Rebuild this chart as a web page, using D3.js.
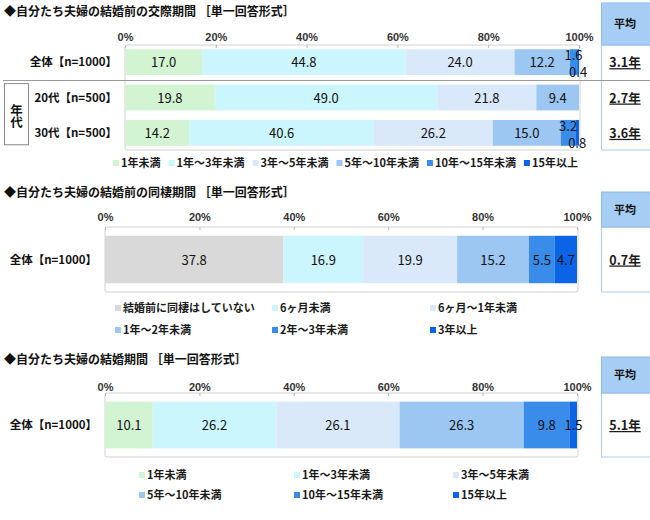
<!DOCTYPE html>
<html>
<head>
<meta charset="utf-8">
<script src="https://cdn.jsdelivr.net/npm/d3@7"></script>
<style>
  body { margin: 0; background: #fff; }
  svg { font-family: "Noto Sans CJK JP", "Noto Sans", sans-serif; }
  .title { font-size: 12px; font-weight: bold; fill: #111; }
  .rowLabel { font-size: 11.5px; font-weight: bold; fill: #111; }
  .axis text { font-size: 11px; font-weight: bold; fill: #333; }
  .axis line { stroke: #b8b8b8; }
  .segLabel { font-size: 13px; fill: #111; }
  .legend text { font-size: 11px; font-weight: bold; fill: #1a1a1a; }
  .avgHead { font-size: 11px; font-weight: bold; fill: #111; }
  .avgVal { font-size: 12.5px; font-weight: bold; fill: #1a1a1a; text-decoration: underline; }
</style>
</head>
<body>
<div id="chart"></div>
<script>
// --- data ---
var TICKS = [0, 20, 40, 60, 80, 100];

var DATING_TITLE = "◆自分たち夫婦の結婚前の交際期間 ［単一回答形式］";
var DATING_KEYS = ["1年未満", "1年～3年未満", "3年～5年未満", "5年～10年未満", "10年～15年未満", "15年以上"];
var DATING_ROWS = ["全体【n=1000】", "20代【n=500】", "30代【n=500】"];
var DATING_VALUES = [
    [17.0, 44.8, 24.0, 12.2, 1.6, 0.4],
    [19.8, 49.0, 21.8, 9.4, 0, 0],
    [14.2, 40.6, 26.2, 15.0, 3.2, 0.8]
];
var DATING_AVG = ["3.1年", "2.7年", "3.6年"];

var COHAB_TITLE = "◆自分たち夫婦の結婚前の同棲期間 ［単一回答形式］";
var COHAB_KEYS = ["結婚前に同棲はしていない", "6ヶ月未満", "6ヶ月～1年未満", "1年～2年未満", "2年～3年未満", "3年以上"];
var COHAB_ROWS = ["全体【n=1000】"];
var COHAB_VALUES = [[37.8, 16.9, 19.9, 15.2, 5.5, 4.7]];
var COHAB_AVG = ["0.7年"];

var MARRIED_TITLE = "◆自分たち夫婦の結婚期間 ［単一回答形式］";
var MARRIED_KEYS = ["1年未満", "1年～3年未満", "3年～5年未満", "5年～10年未満", "10年～15年未満", "15年以上"];
var MARRIED_ROWS = ["全体【n=1000】"];
var MARRIED_VALUES = [[10.1, 26.2, 26.1, 26.3, 9.8, 1.5]];
var MARRIED_AVG = ["5.1年"];

// --- styles ---
var BLUES = ["#ccf6fd", "#dae9f9", "#9cc7f2", "#3a8ceb", "#0b64e6"];
var PALETTE_GREEN = ["#d3f4d3"].concat(BLUES);
var PALETTE_GRAY = ["#d9d9d9"].concat(BLUES);

var svg = d3.select("#chart").append("svg")
    .attr("width", 650)
    .attr("height", 520);

function StackedPanel(cfg) {
    var g = svg.append("g");

    g.append("text")
        .attr("class", "title")
        .attr("x", 4)
        .attr("y", cfg.titleY)
        .text(cfg.title);

    var x = d3.scaleLinear().domain([0, 100]).range([cfg.left, cfg.right]);
    var y = d3.scaleBand().domain(cfg.rows)
        .range([cfg.frameTop, cfg.frameBottom])
        .paddingInner(0.27)
        .paddingOuter(0.12);
    var color = d3.scaleOrdinal().domain(cfg.keys).range(cfg.palette);

    // plot frame
    g.append("rect")
        .attr("x", cfg.left)
        .attr("y", cfg.frameTop)
        .attr("width", cfg.right - cfg.left + 1)
        .attr("height", cfg.frameBottom - cfg.frameTop)
        .attr("rx", 2)
        .attr("fill", "none")
        .attr("stroke", "#d2d2d2");

    var axis = d3.axisTop(x)
        .tickValues(TICKS)
        .tickFormat(function(d){ return d + "%"; })
        .tickSizeInner(-3)
        .tickSizeOuter(0)
        .tickPadding(cfg.frameTop - cfg.axisLabelY - 4);
    var ax = g.append("g")
        .attr("class", "axis")
        .attr("transform", "translate(0," + cfg.frameTop + ")")
        .call(axis);
    ax.select(".domain").remove();

    var table = cfg.values.map(function(vals, i) {
        var row = { name: cfg.rows[i] };
        cfg.keys.forEach(function(k, j){ row[k] = vals[j]; });
        return row;
    });
    var series = d3.stack().keys(cfg.keys)(table);

    var layers = g.selectAll(".layer").data(series).enter().append("g")
        .attr("class", "layer")
        .attr("fill", function(d){ return color(d.key); });
    layers.selectAll("rect").data(function(d){ return d; }).enter().append("rect")
        .attr("x", function(d){ return x(d[0]); })
        .attr("y", function(d){ return y(d.data.name); })
        .attr("width", function(d){ return x(d[1]) - x(d[0]); })
        .attr("height", y.bandwidth());

    // value labels; a tiny last segment pushes its label below the bar and the one before it above
    cfg.rows.forEach(function(r, i) {
        var vals = cfg.values[i];
        var top = y(r), bw = y.bandwidth();
        series.forEach(function(s, j) {
            var v = vals[j];
            if (!v) return;
            var d = s[i];
            var ly = top + bw / 2 + 5;
            if (v < 1) ly = top + bw + 2;
            else if (j + 1 < vals.length && vals[j + 1] > 0 && vals[j + 1] < 1) ly = top + 11;
            g.append("text")
                .attr("class", "segLabel")
                .attr("x", (x(d[0]) + x(d[1])) / 2)
                .attr("y", ly)
                .attr("text-anchor", "middle")
                .text(v.toFixed(1));
        });

        g.append("text")
            .attr("class", "rowLabel")
            .attr("x", cfg.left - 8)
            .attr("y", top + bw / 2 + 4)
            .attr("text-anchor", "end")
            .text(r);

        g.append("text")
            .attr("class", "avgVal")
            .attr("x", 625)
            .attr("y", top + bw / 2 + 5)
            .attr("text-anchor", "middle")
            .text(cfg.avg[i]);
    });

    // average box
    g.insert("rect", ".avgVal")
        .attr("x", 601.5)
        .attr("y", cfg.frameTop)
        .attr("width", 60)
        .attr("height", cfg.frameBottom - cfg.frameTop)
        .attr("fill", "#fff")
        .attr("stroke", "#a9cbea");
    g.append("rect")
        .attr("x", 601.5)
        .attr("y", cfg.headTop)
        .attr("width", 60)
        .attr("height", cfg.frameTop - cfg.headTop)
        .attr("fill", "#a6cdf3")
        .attr("stroke", "#8dbbe6");
    g.append("text")
        .attr("class", "avgHead")
        .attr("x", 625)
        .attr("y", (cfg.headTop + cfg.frameTop) / 2 + 4)
        .attr("text-anchor", "middle")
        .text("平均");

    // legend
    var lg = g.append("g").attr("class", "legend");
    var items = lg.selectAll("g").data(cfg.keys).enter().append("g");
    items.append("rect")
        .attr("y", -7)
        .attr("width", 6)
        .attr("height", 6)
        .attr("fill", function(d){ return color(d); });
    items.append("text")
        .attr("x", 8)
        .text(function(d){ return d; });
    if (cfg.legendCols) {
        items.attr("transform", function(d, i) {
            var c = i % cfg.legendCols.length, rr = Math.floor(i / cfg.legendCols.length);
            return "translate(" + cfg.legendCols[c] + "," + cfg.legendRows[rr] + ")";
        });
    } else {
        var cx = cfg.legendX;
        items.each(function() {
            d3.select(this).attr("transform", "translate(" + cx + "," + cfg.legendY + ")");
            cx += 8 + this.querySelector("text").getComputedTextLength() + 8;
        });
    }

    return { x: x, y: y, g: g };
}

var p1 = StackedPanel({
    title: DATING_TITLE, keys: DATING_KEYS, rows: DATING_ROWS, values: DATING_VALUES, avg: DATING_AVG,
    palette: PALETTE_GREEN,
    titleY: 16, axisLabelY: 37, headTop: 3, frameTop: 45, frameBottom: 150,
    left: 125, right: 579,
    legendX: 113, legendY: 167
});

// age group separator and the vertical "年代" box
var y1 = p1.y, bw1 = y1.bandwidth();
var sepY = Math.round((y1(DATING_ROWS[0]) + bw1 + y1(DATING_ROWS[1])) / 2) + 0.5;
p1.g.append("line")
    .attr("x1", 3).attr("x2", 650)
    .attr("y1", sepY).attr("y2", sepY)
    .attr("stroke", "#9a9a9a");
var boxTop = y1(DATING_ROWS[1]) - 1, boxBottom = y1(DATING_ROWS[2]) + bw1 - 1;
p1.g.append("rect")
    .attr("x", 4.5).attr("y", boxTop)
    .attr("width", 24).attr("height", boxBottom - boxTop)
    .attr("fill", "none").attr("stroke", "#8a8a8a");
p1.g.append("text")
    .attr("class", "rowLabel")
    .attr("x", 16.5)
    .attr("y", (boxTop + boxBottom) / 2 + 2)
    .attr("text-anchor", "middle")
    .style("writing-mode", "vertical-rl")
    .style("font-size", "12.5px")
    .text("年代");

StackedPanel({
    title: COHAB_TITLE, keys: COHAB_KEYS, rows: COHAB_ROWS, values: COHAB_VALUES, avg: COHAB_AVG,
    palette: PALETTE_GRAY,
    titleY: 197, axisLabelY: 217, headTop: 192, frameTop: 227, frameBottom: 292,
    left: 105, right: 577,
    legendCols: [115, 272, 430], legendRows: [312, 334]
});

StackedPanel({
    title: MARRIED_TITLE, keys: MARRIED_KEYS, rows: MARRIED_ROWS, values: MARRIED_VALUES, avg: MARRIED_AVG,
    palette: PALETTE_GREEN,
    titleY: 364, axisLabelY: 387, headTop: 357, frameTop: 393, frameBottom: 457,
    left: 105, right: 577,
    legendCols: [139, 294, 453], legendRows: [479, 499]
});
</script>
</body>
</html>
